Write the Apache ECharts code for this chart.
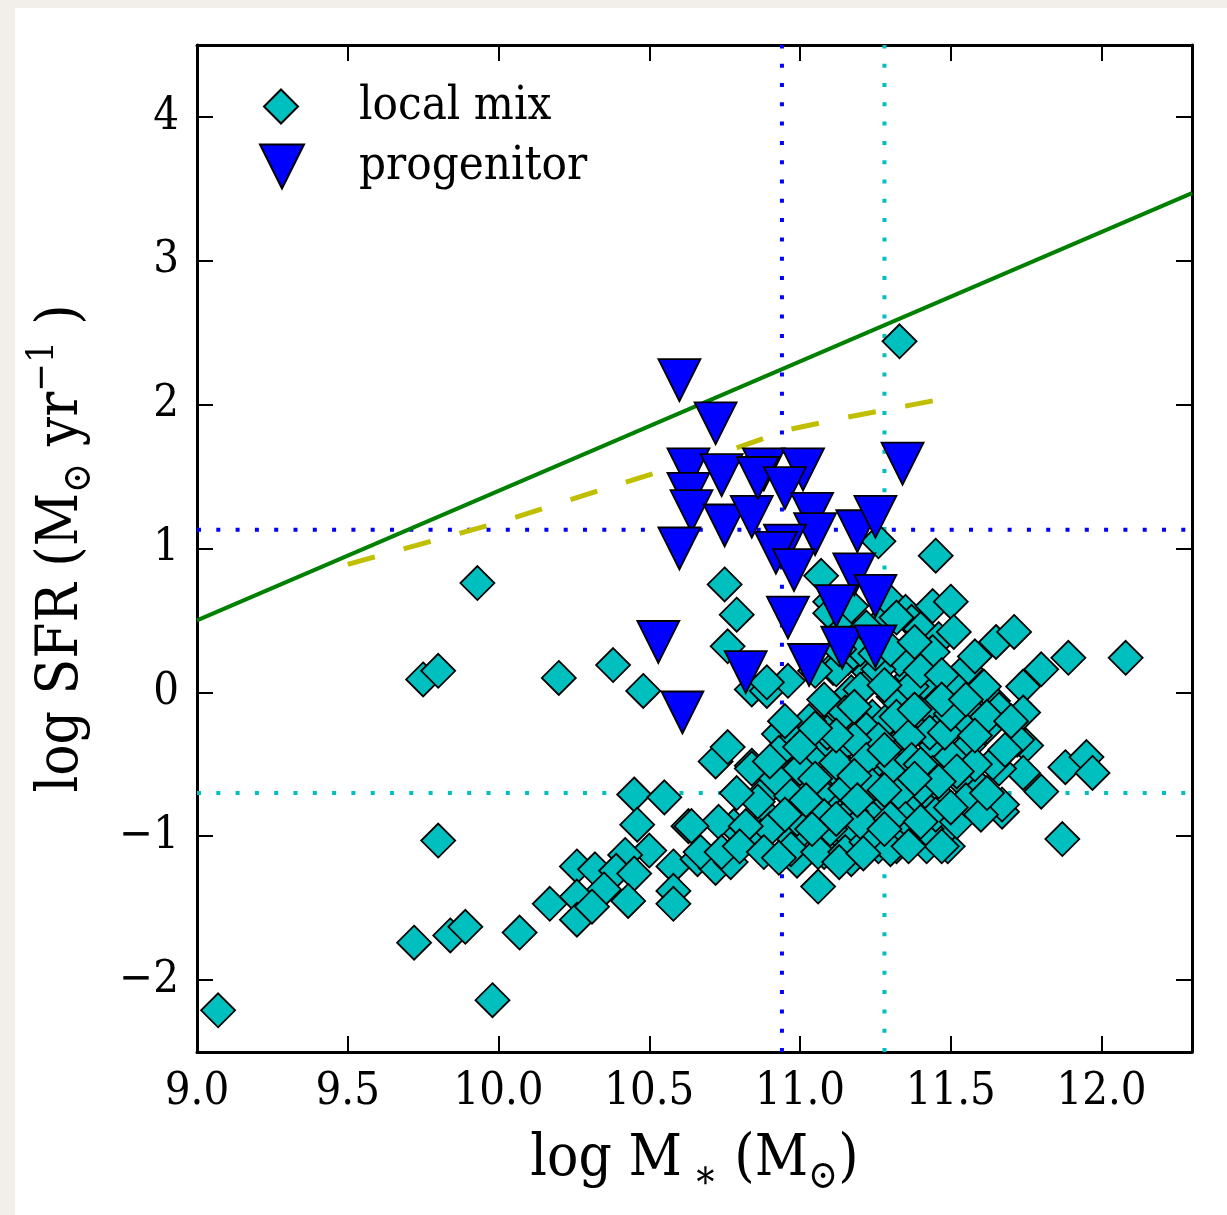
<!DOCTYPE html>
<html>
<head>
<meta charset="utf-8">
<script src="https://cdn.jsdelivr.net/npm/echarts@6/dist/echarts.min.js"></script>
<style>
html,body{margin:0;padding:0;background:#f2efea;}
#panel{position:absolute;left:15px;top:8px;width:1212px;height:1207px;background:#fff;}
#chart{position:absolute;left:0;top:0;width:1227px;height:1215px;}
</style>
</head>
<body>
<div id="panel"></div>
<div id="chart"></div>
<script>
// ---- data ----
const xTicks = [9.0, 9.5, 10.0, 10.5, 11.0, 11.5, 12.0];
const yTicks = [-2, -1, 0, 1, 2, 3, 4];

const localMix = [
  [9.07,-2.21],[9.72,-1.74],[9.84,-1.69],[9.89,-1.63],[9.98,-2.14],[10.07,-1.67],
  [9.75,0.09],[9.80,0.15],[9.93,0.76],[9.80,-1.03],[10.20,0.10],[10.38,0.19],[10.48,0.01],
  [10.45,-0.71],[10.55,-0.73],[10.46,-0.92],[10.63,-0.93],[10.50,-1.10],[10.42,-1.13],
  [10.26,-1.21],[10.32,-1.23],[10.39,-1.24],[10.45,-1.26],[10.58,-1.21],[10.17,-1.47],
  [10.26,-1.42],[10.35,-1.37],[10.43,-1.45],[10.26,-1.58],[10.31,-1.49],[10.58,-1.38],[10.58,-1.47],
  [11.33,2.44],[11.45,0.95],[11.26,1.05],[10.75,0.75],[10.79,0.54],[10.76,0.32],[11.07,0.81],
  [11.10,0.63],[10.84,0.02],[10.89,0.01],[10.96,0.08],[11.11,0.17],[11.16,0.24],[11.21,0.37],
  [11.28,0.51],[11.29,0.65],[11.35,0.56],[11.37,0.49],[11.40,0.44],[11.44,0.60],[11.50,0.63],
  [11.46,0.37],[11.51,0.42],[11.65,0.35],[11.71,0.42],[11.89,0.24],[12.08,0.24],[11.80,0.16],
  [11.74,0.04],[11.64,-0.06],[11.57,0.06],[11.74,-0.14],[11.75,-0.37],[11.74,-0.56],[11.80,-0.69],
  [11.88,-0.52],[11.95,-0.45],[11.97,-0.56],[11.87,-1.02],[11.67,-0.83],[11.67,-0.78],[11.66,-0.53],
  [11.62,-0.24],[11.57,-0.14],[11.49,-1.07],[11.43,-0.99],
  [11.55,0.16],[11.44,0.28],[11.36,0.23],[11.23,0.14],[11.35,0.00],[11.44,-0.03],[11.51,0.04],
  [11.61,0.04],[11.66,-0.12],[11.24,-0.17],[11.32,-0.26],[11.42,-0.19],[11.54,-0.24],[11.62,-0.17],
  [11.72,-0.33],[11.64,-0.49],[11.56,-0.37],[11.45,-0.37],[11.34,-0.33],[11.24,-0.37],[11.25,-0.58],
  [11.34,-0.51],[11.44,-0.56],[11.53,-0.60],[11.60,-0.67],[11.47,-0.74],[11.39,-0.74],[11.30,-0.79],
  [11.22,-0.74],[11.26,-0.97],[11.36,-0.97],[11.46,-1.00],[11.42,-1.07],[11.32,-1.07],
  [10.93,-0.29],[10.98,-0.33],[11.12,-0.19],[11.17,0.00],[11.25,0.11],[11.37,0.11],[11.29,-0.19],
  [11.22,-0.26],[11.13,-0.40],[11.07,-0.40],[11.02,-0.47],[11.16,-0.56],[11.26,-0.47],[11.42,-0.10],
  [11.43,-0.28],[10.84,-0.51],[10.94,-0.56],[10.87,-0.72],[10.98,-0.67],[11.09,-0.63],[11.22,-0.67],
  [11.32,-0.60],[11.40,-0.67],[10.90,-0.88],[11.02,-0.83],[11.13,-0.81],[11.26,-0.83],[11.36,-0.81],
  [10.87,-1.00],[10.98,-1.02],[11.09,-1.00],[11.16,-0.95],[11.24,-1.02],[11.33,-1.00],[11.42,-0.95],
  [11.08,-0.05],[11.12,0.16],[11.20,0.30],[11.33,0.23],[11.41,0.07],[10.89,0.07],
  [10.66,-1.16],[10.72,-1.22],[10.77,-1.18],[10.78,-0.93],[10.86,-0.76],[10.90,-0.95],[10.99,-1.17],
  [11.06,-1.35],[11.08,-1.11],[11.17,-1.01],[11.17,-1.16],[11.26,-1.07],[11.32,-0.97],[11.47,-1.07],
  [11.09,-0.72],[11.22,-0.83],[11.37,-0.83],
  [11.32,0.52],[11.26,0.16],[11.20,0.02],[11.31,-0.03],[11.37,0.04],[11.15,-0.14],[11.32,-0.17],
  [11.36,-0.31],[11.26,-0.33],[11.18,-0.33],[11.09,-0.28],[11.04,-0.47],[11.12,-0.49],[11.22,-0.47],
  [11.31,-0.51],[11.37,-0.47],[10.93,-0.42],[11.00,-0.53],[10.92,-0.60],[10.84,-0.53],[10.79,-0.70],
  [10.97,-0.72],[11.07,-0.70],[11.15,-0.67],[11.24,-0.65],[11.33,-0.70],[10.73,-0.90],[10.82,-0.93],
  [10.99,-0.88],[11.08,-0.86],[11.17,-0.83],[11.35,-0.88],[10.67,-1.11],[10.74,-1.11],[10.80,-1.07],
  [10.88,-1.11],[10.97,-1.09],[11.06,-1.11],[11.15,-1.11],[11.22,-1.04],[11.30,-1.09],[11.36,-1.07],
  [10.72,-0.48],[10.76,-0.38],[10.64,-0.93],
  [11.10,0.55],[11.15,0.45],[11.13,0.30],[11.05,0.15],[11.25,0.27],
  [11.05,-0.60],[11.18,-0.58],[11.28,-0.40],[11.40,-0.50],[11.50,-0.45],[11.48,-0.28],[11.10,-0.95],
  [11.20,-0.90],[11.30,-0.88],[11.45,-0.85],[11.52,-0.90],[11.55,-0.75],[11.60,-0.85],[11.58,-0.50],
  [11.50,-0.15],[11.40,0.15],[11.30,0.30],[11.47,0.12],[11.02,-0.75],[10.95,-0.85],[11.12,-0.30],
  [11.00,-0.38],[10.90,-0.48],
  [11.03,-0.20],[11.18,-0.10],[11.28,0.05],[11.38,-0.12],[11.47,-0.05],[11.55,-0.05],[11.58,-0.30],
  [11.52,-0.55],[11.46,-0.62],[11.38,-0.60],[11.28,-0.68],[11.19,-0.75],[11.12,-0.88],[11.04,-0.95],
  [11.28,-0.95],[11.40,-0.90],[11.50,-0.80],[11.62,-0.70],[11.68,-0.40],[11.70,-0.20],[11.58,0.25],
  [11.38,0.35],[11.22,0.45],[11.17,0.60],[11.05,-0.25],[10.95,-0.20],[10.93,-1.15],[11.13,-1.18],
  [11.21,-1.12]
];

const progenitor = [
  [10.60,2.17],[10.72,1.87],[10.63,1.55],[10.74,1.51],[10.88,1.55],[11.01,1.55],[10.63,1.38],
  [10.64,1.26],[10.75,1.16],[10.84,1.22],[10.86,1.49],[10.95,1.42],[11.04,1.24],[11.05,1.10],
  [10.60,1.00],[10.95,1.02],[10.92,0.97],[10.98,0.85],[11.19,1.12],[11.25,1.22],[11.34,1.59],
  [10.96,0.52],[11.18,0.82],[11.12,0.60],[11.25,0.67],[10.53,0.35],[10.82,0.14],[11.03,0.19],
  [11.14,0.31],[11.25,0.32],[10.61,-0.14]
];

const greenLine = [[9.0,0.50],[12.3,3.47]];
const yellowDashed = [[9.5,0.89],[10.0,1.18],[10.42,1.46],[10.79,1.70],[10.97,1.83],[11.15,1.91],[11.45,2.03]];
const blueVX = 10.94, cyanVX = 11.28, blueHY = 1.13, cyanHY = -0.70;
const xRange = [9.0, 12.3], yRange = [-2.5, 4.5];

// ---- chart ----
const FONT = "'DejaVu Serif Condensed', 'DejaVu Serif', serif";
const chart = echarts.init(document.getElementById('chart'), null, {renderer:'canvas'});
const fmtY = v => (v < 0 ? '\u2212' + Math.abs(v) : String(v));
const spine = {onZero:false, lineStyle:{color:'#000', width:3}};
const tick = vals => ({show:true, inside:true, length:16, customValues: vals, lineStyle:{color:'#000', width:2}});

function refLine(data, color, dash, width, z) {
  return {type:'line', data, symbol:'none', silent:true, z: z||1, animation:false,
    lineStyle:{color, width, type: dash}};
}

chart.setOption({
  animation:false,
  grid:{left:197, right:35, top:45, bottom:163},
  legend:[
    {data:['local mix'], orient:'vertical', left:263, top:83, padding:0, itemWidth:34, itemHeight:34,
     selectedMode:false, textStyle:{fontFamily:FONT, fontSize:47, color:'#000', padding:[0,0,0,56]}},
    {data:['progenitor'], orient:'vertical', left:259, top:143, padding:0, itemWidth:44, itemHeight:44,
     selectedMode:false, textStyle:{fontFamily:FONT, fontSize:47, color:'#000', padding:[0,0,0,50]}}
  ],
  xAxis:[
    {type:'value', min:xRange[0], max:xRange[1], position:'bottom', axisLine:spine, axisTick:tick(xTicks),
     splitLine:{show:false},
     axisLabel:{customValues:xTicks, formatter:v=>v.toFixed(1), fontFamily:FONT, fontSize:45, color:'#000', margin:18},
     name:'{n|log M}{sub| \u2217}{n| (M}{sub|\u2299}{n|)}', nameLocation:'middle', nameGap:70,
     nameTextStyle:{fontFamily:FONT, color:'#000', rich:{
       n:{fontFamily:FONT, fontSize:58, lineHeight:76, verticalAlign:'middle'},
       sub:{fontFamily:FONT, fontSize:40, lineHeight:40, verticalAlign:'bottom'}}}},
    {type:'value', min:xRange[0], max:xRange[1], position:'top', axisLine:spine, axisTick:tick(xTicks),
     splitLine:{show:false}, axisLabel:{show:false}}
  ],
  yAxis:[
    {type:'value', min:yRange[0], max:yRange[1], position:'left', axisLine:spine, axisTick:tick(yTicks),
     splitLine:{show:false},
     axisLabel:{customValues:yTicks, formatter:fmtY, fontFamily:FONT, fontSize:45, color:'#000', margin:18},
     name:'{n|log SFR (M}{sub|\u2299}{n| yr}{sup|\u22121}{n| )}', nameLocation:'middle', nameGap:97, nameRotate:90,
     nameTextStyle:{fontFamily:FONT, color:'#000', rich:{
       n:{fontFamily:FONT, fontSize:58, lineHeight:76, verticalAlign:'middle'},
       sub:{fontFamily:FONT, fontSize:40, lineHeight:40, verticalAlign:'bottom'},
       sup:{fontFamily:FONT, fontSize:38, lineHeight:38, verticalAlign:'top'}}}},
    {type:'value', min:yRange[0], max:yRange[1], position:'right', axisLine:spine, axisTick:tick(yTicks),
     splitLine:{show:false}, axisLabel:{show:false}}
  ],
  series:[
    refLine([[blueVX,yRange[0]],[blueVX,yRange[1]]], '#0000ff', [4,15.3], 4),
    refLine([[cyanVX,yRange[0]],[cyanVX,yRange[1]]], '#00bfbf', [4,15.3], 4),
    refLine([[xRange[0],blueHY],[xRange[1],blueHY]], '#0000ff', [4,15.3], 4),
    refLine([[xRange[0],cyanHY],[xRange[1],cyanHY]], '#00bfbf', [4,15.3], 4),
    refLine(greenLine, '#008000', 'solid', 4),
    refLine(yellowDashed, '#bfbf00', [28,30], 5),
    {name:'local mix', type:'scatter', data:localMix, symbol:'diamond', symbolSize:34, z:3,
     itemStyle:{color:'#00bfbf', borderColor:'#000', borderWidth:1.8, opacity:1}},
    {name:'progenitor', type:'scatter', data:progenitor, symbol:'path://M0,0L20,0L10,20Z', symbolSize:[42,42], z:4,
     itemStyle:{color:'#0000ff', borderColor:'#000', borderWidth:1.8, opacity:1}}
  ]
});
</script>
</body>
</html>
